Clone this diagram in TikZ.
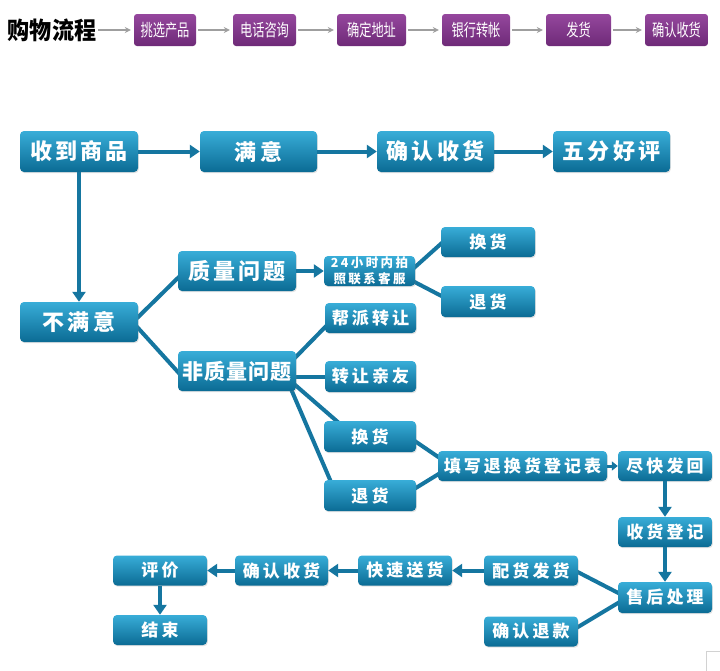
\documentclass[tikz,border=0pt]{standalone}
\usepackage{fontspec}
\usepackage{graphicx}
\usetikzlibrary{arrows.meta,shadows,calc}
\newfontfamily\cjk{Noto Sans CJK SC}
\newfontfamily\cjkls{Noto Sans CJK SC}[LetterSpace=14]
\newfontfamily\cjkmid{Noto Sans CJK SC}[LetterSpace=18]
\newfontfamily\cjktight{Noto Sans CJK SC}[LetterSpace=5]
\newfontfamily\cjksmall{Noto Sans CJK SC}[LetterSpace=19]
\definecolor{bluetop}{HTML}{38ADD8}
\definecolor{bluebot}{HTML}{0B6B94}
\definecolor{lnblue}{HTML}{1576A0}
\definecolor{purtop}{HTML}{95479D}
\definecolor{purbot}{HTML}{6E2A78}
\pgfdeclarelayer{background}
\pgfsetlayers{background,main}
\begin{document}
\begin{tikzpicture}[x=1pt,y=-1pt,
  bb/.style={rounded corners=4pt, top color=bluetop, bottom color=bluebot, text=white,
    font=\cjkls\bfseries\fontsize{22}{22}\selectfont, inner sep=0pt,
    minimum height=41pt, minimum width=118pt,
    drop shadow={opacity=0.22,shadow xshift=0.8pt,shadow yshift=-1.2pt}},
  mb/.style={bb, font=\cjkmid\bfseries\fontsize{17}{17}\selectfont, minimum width=94pt, minimum height=30pt},
  sb/.style={bb, font=\cjksmall\bfseries\fontsize{12.5}{16}\selectfont, minimum width=91pt, minimum height=30pt, align=center},
  pb/.style={rounded corners=3pt, top color=purtop, bottom color=purbot, text=white,
    font=\cjk\fontsize{17}{17}\selectfont, minimum height=32pt, inner sep=0pt},
  titlebox/.style={font=\cjk\bfseries\fontsize{24}{24}\selectfont, inner sep=0pt, text=black},
  ln/.style={line width=4pt, draw=lnblue},
  ar/.style={ln, -{Triangle[width=13pt,length=10pt]}},
  sar/.style={line width=3pt, draw=lnblue, -{Triangle[width=9pt,length=6pt]}},
  gar/.style={draw=gray!75, line width=1.5pt, -{Stealth[length=6pt,width=6pt]}, shorten <=2pt, shorten >=3pt}
]
\begin{pgfonlayer}{background}
\fill[white] (0,0) rectangle (720,670);
\end{pgfonlayer}
\useasboundingbox (0,0) rectangle (720,670);

% top row
\node[titlebox] (t) at (52,30) {\scalebox{0.92}[1]{购物流程}};
\node[pb, minimum width=62pt] (p1) at (165,30) {\scalebox{0.72}[1]{挑选产品}};
\node[pb, minimum width=63pt] (p2) at (264.5,30) {\scalebox{0.72}[1]{电话咨询}};
\node[pb, minimum width=69pt] (p3) at (371.5,30) {\scalebox{0.72}[1]{确定地址}};
\node[pb, minimum width=68pt] (p4) at (476,30) {\scalebox{0.72}[1]{银行转帐}};
\node[pb, minimum width=65pt] (p5) at (578.5,30) {\scalebox{0.72}[1]{发货}};
\node[pb, minimum width=63pt] (p6) at (676.5,30) {\scalebox{0.72}[1]{确认收货}};
\draw[gar] (t) -- (p1);
\draw[gar] (p1) -- (p2);
\draw[gar] (p2) -- (p3);
\draw[gar] (p3) -- (p4);
\draw[gar] (p4) -- (p5);
\draw[gar] (p5) -- (p6);

% main flow
\node[bb] (a) at (79,151.5) {收到商品};
\node[bb, minimum width=117pt] (b) at (258.5,151.5) {满意};
\node[bb, minimum width=117pt] (c) at (435.5,151.5) {确认收货};
\node[bb, minimum width=117pt] (d) at (611.5,151.5) {五分好评};
\node[bb, minimum height=40pt] (n) at (79,322) {不满意};
\node[bb, minimum height=40pt] (q) at (237,271) {质量问题};
\node[bb, minimum height=40pt, font=\cjktight\bfseries\fontsize{21}{21}\selectfont] (nq) at (237,371) {非质量问题};

\node[sb] (h24) at (369.5,271) {24小时内拍\\照联系客服};
\node[mb] (hh) at (488,242) {换货};
\node[mb, minimum height=31pt] (th) at (488,301.5) {退货};
\node[mb, minimum width=91pt] (bp) at (370.5,318) {帮派转让};
\node[mb, minimum width=91pt, minimum height=31pt] (zr) at (370.5,376.5) {转让亲友};
\node[mb, minimum width=92pt, minimum height=31pt] (hh2) at (370,436.5) {换货};
\node[mb, minimum width=92pt, minimum height=31pt] (th2) at (370,495.5) {退货};
\node[mb, minimum width=169pt] (tx) at (522.5,466) {填写退换货登记表};
\node[mb] (jk) at (665,466) {尽快发回};
\node[mb] (sh) at (665,532) {收货登记};
\node[mb, minimum height=31pt] (shcl) at (665,597.5) {售后处理};
\node[mb] (ph) at (531,570.5) {配货发货};
\node[mb] (qt) at (531,631.5) {确认退款};
\node[mb] (ks) at (405,570.5) {快速送货};
\node[mb, minimum width=93pt] (qr) at (281.5,570.5) {确认收货};
\node[mb] (pj) at (160,570.5) {评价};
\node[mb] (js) at (160,630) {结束};

% arrows
\draw[ar] (a) -- (b);
\draw[ar] (b) -- (c);
\draw[ar] (c) -- (d);
\draw[ar] (a.south) -- (n.north);
\draw[ar] (q) -- (h24);
\draw[sar] (tx) -- (jk);
\draw[ar] (jk) -- (sh);
\draw[ar] (sh) -- (shcl);
\draw[ar] (ph) -- (ks);
\draw[ar] (ks) -- (qr);
\draw[ar] (qr) -- (pj);
\draw[ar] (pj) -- (js);

% plain connectors behind boxes
\begin{pgfonlayer}{background}
\draw[ln] ($(n.center)+(49,5)$) -- ($(q.center)+(-49,-3)$);
\draw[ln] ($(n.center)+(50,-4)$) -- ($(nq.center)+(-50,11)$);
\draw[ln] ($(h24.center)+(35.5,5)$) -- ($(hh.center)+(-35,-9)$);
\draw[ln] ($(h24.center)+(35.5,6)$) -- ($(th.center)+(-35,0.5)$);
\draw[ln] ($(nq.center)+(49,-4)$) -- ($(bp.center)+(-35.5,-1)$);
\draw[ln] (nq.center |- zr.west) -- (zr.west);
\draw[ln] ($(nq.center)+(49,6)$) -- ($(hh2.center)+(-23,-6.5)$);
\draw[ln] ($(nq.center)+(51,11)$) -- ($(th2.center)+(-36,-6.5)$);
\draw[ln] ($(hh2.center)+(36,-1.5)$) -- ($(tx.center)+(-72.5,-1)$);
\draw[ln] ($(th2.center)+(36,-1.5)$) -- ($(tx.center)+(-72.5,1)$);
\draw[ln] ($(ph.center)+(37,-3.5)$) -- ($(shcl.center)+(-37,0.5)$);
\draw[ln] ($(qt.center)+(37,1.5)$) -- ($(shcl.center)+(-37,-0.5)$);
\end{pgfonlayer}

\draw[gray!35, line width=0.8pt] (706,651) rectangle (721,671);
\end{tikzpicture}
\end{document}
